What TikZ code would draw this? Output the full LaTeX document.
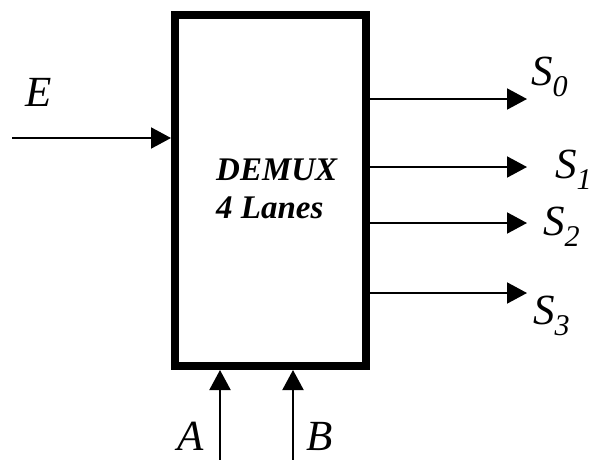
\documentclass[tikz,border=0pt]{standalone}
\usepackage{fontspec}
\setmainfont{Liberation Serif}
\usetikzlibrary{arrows.meta,positioning}
\newcommand{\sig}[1]{\textit{S}\textsubscript{\textit{#1}}}

\begin{document}
\begin{tikzpicture}[x=1pt,y=-1pt,>={Triangle[length=20pt,width=21pt]},
  wire/.style={->,line width=2pt},
  lbl/.style={font=\fontsize{43}{45}\selectfont\itshape,inner sep=0pt,anchor=base west},
  title/.style={font=\fontsize{33}{38}\selectfont\bfseries\itshape,inner sep=0pt,anchor=base west}]
  \useasboundingbox (0,0) rectangle (594,460);
  % block
  \node[draw,line width=8pt,minimum width=191pt,minimum height=351pt,inner sep=0pt] (demux) at (270.5,190.5) {};
  \node[title] (name) at (216,180) {DEMUX};
  \node[title] (lanes) at (216,218) {4 Lanes};
  % data input
  \coordinate (ein) at (12,138);
  \draw[wire] (ein) -- (ein -| demux.west);
  \node[lbl] (e) at (25,106) {E};
  % outputs
  \coordinate (o0) at (527,99);
  \coordinate (o1) at (527,167);
  \coordinate (o2) at (527,223);
  \coordinate (o3) at (527,293);
  \draw[wire] (o0 -| demux.east) -- (o0);
  \draw[wire] (o1 -| demux.east) -- (o1);
  \draw[wire] (o2 -| demux.east) -- (o2);
  \draw[wire] (o3 -| demux.east) -- (o3);
  \node[lbl] (s0) at (531,85) {\sig{0}};
  \node[lbl] (s1) at (555,178) {\sig{1}};
  \node[lbl] (s2) at (543,235) {\sig{2}};
  \node[lbl] (s3) at (533,324) {\sig{3}};
  % select inputs
  \coordinate (ain) at (220,460);
  \coordinate (bin) at (293,460);
  \draw[wire] (ain) -- (ain |- demux.south);
  \draw[wire] (bin) -- (bin |- demux.south);
  \node[lbl] (a) at (177,450) {A};
  \node[lbl] (b) at (306,450) {B};
\end{tikzpicture}
\end{document}
